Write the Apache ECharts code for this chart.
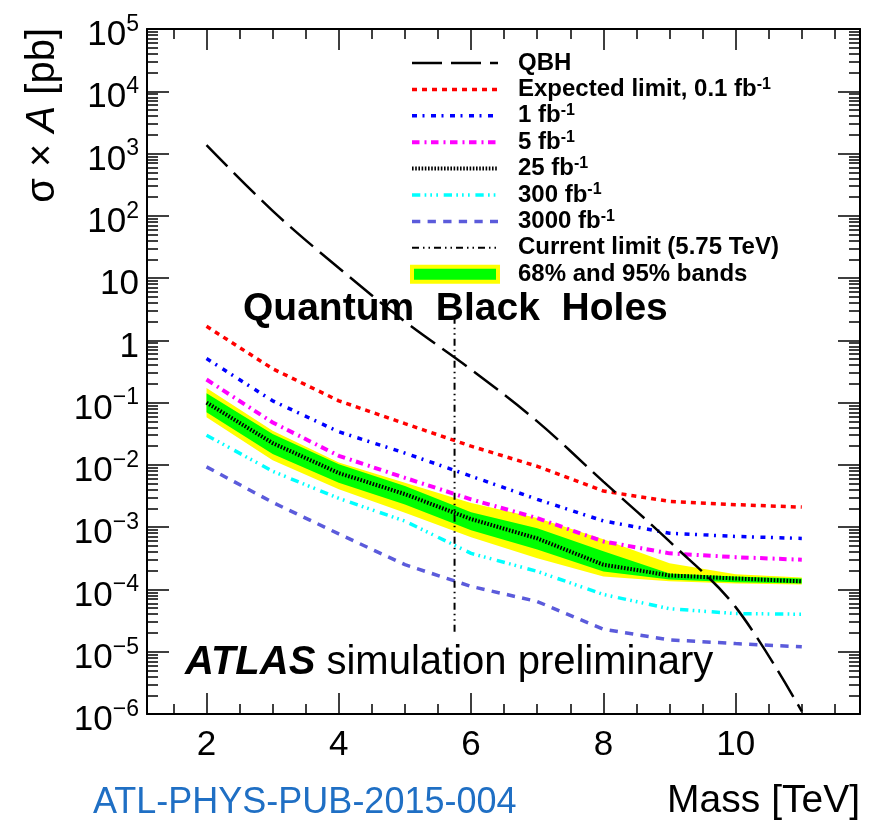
<!DOCTYPE html>
<html>
<head>
<meta charset="utf-8">
<title>Quantum Black Holes</title>
<script src="https://cdn.jsdelivr.net/npm/echarts@6/dist/echarts.min.js"></script>
<style>
  html, body { margin: 0; padding: 0; background: #fff; }
  #chart { width: 870px; height: 828px; }
</style>
</head>
<body>
<div id="chart"></div>
<script>
// masses (TeV) and limits (pb)
var masses = [2, 3, 4, 5, 6, 7, 8, 9, 10, 11];
var qbh = [1360, 120, 14.5, 2.0, 0.34, 0.05, 0.0054, 0.00059, 0.000052, 0.0000011];
var exp01 = [1.68, 0.35, 0.107, 0.046, 0.02, 0.0095, 0.0038, 0.0026, 0.0023, 0.0021];
var exp1 = [0.51, 0.107, 0.034, 0.0155, 0.0066, 0.0028, 0.00126, 0.0008, 0.00071, 0.00066];
var exp5 = [0.235, 0.048, 0.014, 0.0062, 0.0028, 0.0014, 0.00059, 0.00038, 0.00033, 0.0003];
var exp25 = [0.1, 0.0224, 0.0074, 0.0034, 0.00135, 0.00066, 0.00025, 0.000168, 0.00015, 0.000135];
var exp300 = [0.03, 0.0079, 0.0029, 0.00125, 0.00038, 0.000195, 0.000083, 0.000049, 0.000041, 0.00004];
var exp3000 = [0.0093, 0.0025, 0.00078, 0.00025, 0.000112, 0.000064, 0.000023, 0.0000155, 0.0000135, 0.000012];
var band95Lo = [0.058, 0.0119, 0.00405, 0.0017, 0.00069, 0.000316, 0.000162, 0.000135, 0.000125, 0.00012];
var band95Hi = [0.1725, 0.0353, 0.0109, 0.00519, 0.00245, 0.0014, 0.00064, 0.000263, 0.000175, 0.000156];
var band68Lo = [0.0698, 0.0149, 0.00519, 0.00232, 0.00089, 0.00044, 0.000195, 0.000145, 0.00013, 0.000125];
var band68Hi = [0.141, 0.0313, 0.01026, 0.00458, 0.00174, 0.00096, 0.00041, 0.000181, 0.000162, 0.00015];
var limitMass = 5.75;
var limitSpan = [2.4, 0.0000195];

// axis ticks
var xMajor = [2, 4, 6, 8, 10];
var xMinor = [1.5, 2.5, 3, 3.5, 4.5, 5, 5.5, 6.5, 7, 7.5, 8.5, 9, 9.5, 10.5, 11, 11.5];
var yDecades = [1e-6, 1e-5, 1e-4, 1e-3, 1e-2, 1e-1, 1, 10, 100, 1e3, 1e4, 1e5];
var yMinor = [];
yDecades.slice(0, -1).forEach(function (d) {
  [2, 3, 4, 5, 6, 7, 8, 9].forEach(function (k) { yMinor.push(k * d); });
});

var font = '"Liberation Sans", Arial, Helvetica, sans-serif';

function pairs(ys) {
  return masses.map(function (m, i) { return [m, ys[i]]; });
}
function limitLine(name, ys, color, width, dash) {
  return {
    name: name, type: 'line', data: pairs(ys), symbol: 'none', silent: true,
    itemStyle: { color: color },
    lineStyle: { color: color, width: width, type: dash }
  };
}
// filled band between lo and hi, drawn as one polygon
function band(name, lo, hi, color) {
  return {
    name: name, type: 'custom', silent: true,
    itemStyle: { color: color },
    data: masses.map(function (m, i) { return [m, lo[i], hi[i]]; }),
    encode: { x: 0, y: [1, 2] },
    renderItem: function (params, api) {
      if (params.dataIndexInside !== 0) return null;
      var top = [], bot = [];
      for (var i = 0; i < params.dataInsideLength; i++) {
        top.push(api.coord([api.value(0, i), api.value(2, i)]));
        bot.unshift(api.coord([api.value(0, i), api.value(1, i)]));
      }
      return { type: 'polygon', shape: { points: top.concat(bot) }, style: { fill: color } };
    }
  };
}

function xAx(pos, ticks, len, main) {
  return {
    type: 'value', position: pos, min: 1.1, max: 11.88,
    axisLine: { show: main, onZero: false, lineStyle: { color: '#000', width: 2 } },
    axisTick: { inside: true, length: len, customValues: ticks, lineStyle: { color: '#000', width: 1.5 } },
    axisLabel: (main && pos === 'bottom') ? {
      customValues: xMajor, fontFamily: font, fontSize: 35, color: '#000', margin: 14
    } : { show: false },
    splitLine: { show: false }
  };
}
function yAx(pos, ticks, len, main) {
  return {
    type: 'log', logBase: 10, position: pos, min: 1e-6, max: 1e5,
    axisLine: { show: main, onZero: false, lineStyle: { color: '#000', width: 2 } },
    axisTick: { inside: true, length: len, customValues: ticks, lineStyle: { color: '#000', width: 1.5 } },
    axisLabel: (main && pos === 'left') ? {
      customValues: yDecades, fontFamily: font, fontSize: 35, color: '#000', margin: 8,
      padding: [8, 0, 0, 0],
      formatter: function (v) {
        var e = Math.round(Math.log10(v));
        if (e === 0) return '{b|1}{s|\u200b}';
        if (e === 1) return '{b|10}{s|\u200b}';
        return '{b|10}{s|' + (e < 0 ? '\u2212' + (-e) : e) + '}';
      },
      rich: {
        b: { fontFamily: font, fontSize: 35, lineHeight: 40, verticalAlign: 'bottom' },
        s: { fontFamily: font, fontSize: 23, lineHeight: 20, verticalAlign: 'top' }
      }
    } : { show: false },
    splitLine: { show: false }
  };
}

var chart = echarts.init(document.getElementById('chart'));

var option = {
  backgroundColor: '#fff',
  animation: false,
  grid: { left: 147, top: 29, right: 10, bottom: 114 },
  xAxis: [
    xAx('bottom', xMajor, 21, true),
    xAx('bottom', xMinor, 10, false),
    xAx('top', xMajor, 21, true),
    xAx('top', xMinor, 10, false)
  ],
  yAxis: [
    yAx('left', yDecades, 22, true),
    yAx('left', yMinor, 11, false),
    yAx('right', yDecades, 22, true),
    yAx('right', yMinor, 11, false)
  ],
  legend: {
    orient: 'vertical', left: 410, top: 50, padding: 0, itemGap: 0.4,
    itemWidth: 86, itemHeight: 15, selectedMode: false,
    itemStyle: { opacity: 0 },
    lineStyle: { width: 'inherit' },
    textStyle: {
      fontFamily: font, fontWeight: 'bold', fontSize: 24, lineHeight: 26, color: '#000',
      padding: [0, 0, 0, 15],
      rich: { sup: { fontFamily: font, fontWeight: 'bold', fontSize: 16, lineHeight: 10, verticalAlign: 'top' } }
    },
    formatter: function (name) { return name.replace('fb-1', 'fb{sup|-1}'); },
    data: [
      'QBH', 'Expected limit, 0.1 fb-1', '1 fb-1', '5 fb-1', '25 fb-1', '300 fb-1', '3000 fb-1',
      'Current limit (5.75 TeV)',
      { name: '68% and 95% bands', icon: 'rect',
        itemStyle: { color: '#00ff00', borderColor: '#ffff00', borderWidth: 4, opacity: 1 } }
    ]
  },
  series: [
    band('95% band', band95Lo, band95Hi, '#ffff00'),
    band('68% and 95% bands', band68Lo, band68Hi, '#00ff00'),
    limitLine('3000 fb-1', exp3000, '#5b5bdb', 3.5, [8.3, 7.3]),
    limitLine('300 fb-1', exp300, '#00ffff', 3.5, [8.3, 4.3, 1.7, 4, 1.7, 4.3, 1.7, 5.7]),
    limitLine('25 fb-1', exp25, '#000000', 4, [1.6, 1.6]),
    limitLine('5 fb-1', exp5, '#ff00ff', 4, [7.5, 5, 2, 4.5]),
    limitLine('1 fb-1', exp1, '#0000ff', 3.5, [5, 5.5, 2, 6.5]),
    limitLine('Expected limit, 0.1 fb-1', exp01, '#ff0000', 3.5, [5, 5]),
    Object.assign(limitLine('QBH', qbh, '#000000', 2.5, [30, 9]), { smooth: 0.35 }),
    { name: 'Current limit (5.75 TeV)', type: 'line', symbol: 'none', silent: true,
      data: limitSpan.map(function (v) { return [limitMass, v]; }),
      itemStyle: { color: '#000' },
      lineStyle: { color: '#000', width: 2, type: [7, 4, 1.5, 4, 1.5, 4] } }
  ],
  graphic: [
    { type: 'text', x: 43, y: 28, rotation: Math.PI / 2,
      style: { text: 'σ × {i|A} [pb]', font: '40px ' + font, fill: '#000',
        textAlign: 'right', textVerticalAlign: 'middle',
        rich: { i: { fontStyle: 'italic', fontSize: 40, fontFamily: font } } } },
    { type: 'text', x: 243, y: 309, z: 1,
      style: { text: 'Quantum  Black  Holes', font: 'bold 39px ' + font, fill: '#000',
        textVerticalAlign: 'middle' } },
    { type: 'text', x: 185, y: 663,
      style: { text: '{a|ATLAS} simulation preliminary', font: '40px ' + font, fill: '#000',
        textVerticalAlign: 'middle',
        rich: { a: { fontStyle: 'italic', fontWeight: 'bold', fontSize: 40, fontFamily: font } } } },
    { type: 'text', x: 93, y: 803,
      style: { text: 'ATL-PHYS-PUB-2015-004', font: '36px ' + font, fill: '#1f6fc4',
        textVerticalAlign: 'middle' } },
    { type: 'text', x: 860, y: 801,
      style: { text: 'Mass [TeV]', font: '39px ' + font, fill: '#000',
        textAlign: 'right', textVerticalAlign: 'middle' } }
  ]
};
chart.setOption(option);
</script>
</body>
</html>
